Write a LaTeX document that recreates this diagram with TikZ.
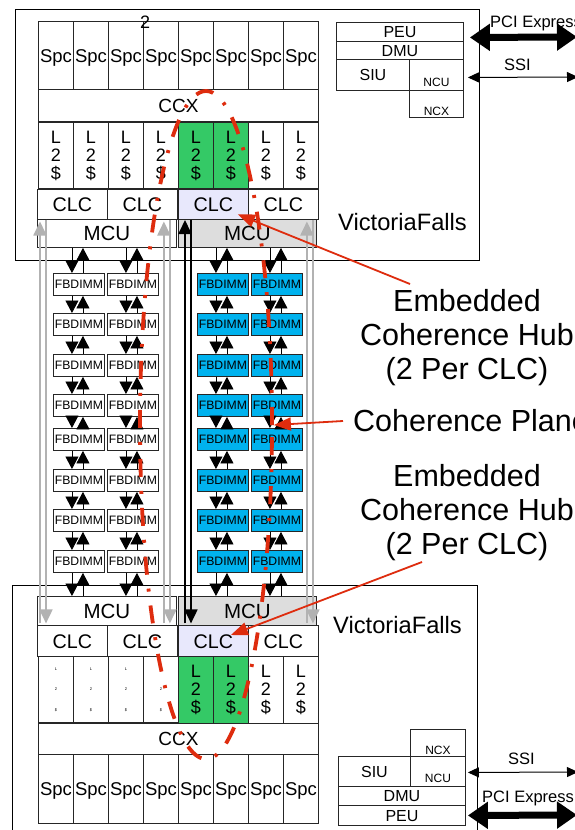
\documentclass[tikz,border=0pt]{standalone}
\usepackage{fontspec}
\setmainfont{Liberation Sans}
\usetikzlibrary{arrows.meta, calc, positioning, shapes.geometric}

\definecolor{cachegreen}{RGB}{52,201,102}
\definecolor{clclav}{RGB}{232,232,252}
\definecolor{mcugray}{RGB}{221,221,221}
\definecolor{dimmblue}{RGB}{0,178,238}
\definecolor{hubred}{RGB}{222,44,14}
\definecolor{busgray}{RGB}{178,178,178}

\newcommand{\setfs}[1]{\fontsize{#1}{#1}\selectfont}

\begin{document}
\begin{tikzpicture}[x=1pt, y=-1pt,
    cell/.style={rectangle, draw=black!85, line width=0.9pt, inner sep=0pt, anchor=north west},
    spc/.style={cell, minimum width=35pt, minimum height=68pt, font=\setfs{18.5}, text height=13.2pt, text depth=0pt},
    ccx/.style={cell, minimum width=280pt, minimum height=32pt, font=\setfs{19}, text height=13.6pt, text depth=0pt},
    ltwo/.style={cell, minimum width=35pt, minimum height=66pt, align=center, font=\fontsize{18}{18}\selectfont},
    ltiny/.style={cell, minimum width=35pt, minimum height=66pt, align=center, font=\fontsize{4}{20.5}\selectfont},
    clc/.style={cell, minimum width=70pt, minimum height=29.5pt, font=\setfs{19.7}, text height=14.1pt, text depth=0pt},
    mcu/.style={cell, minimum width=139pt, minimum height=28.5pt, font=\setfs{20.5}, text height=14.7pt, text depth=0pt},
    io/.style={cell, font=\setfs{16}, text height=11.5pt, text depth=0pt},
    iosmall/.style={cell, font=\setfs{12}, text height=23pt, text depth=0pt},
    dimm/.style={cell, minimum width=51pt, minimum height=22pt, font=\setfs{12.2}, text height=8.7pt, text depth=0pt},
    lbl/.style={anchor=base west, inner sep=0pt},
    dn/.style={-{Triangle[width=13pt,length=12.5pt]}, line width=0.8pt},
    bus/.style={-{Triangle[width=13pt,length=14pt]}, line width=1.8pt},
    ssi/.style={{Triangle[width=10pt,length=11pt]}-{Triangle[width=10pt,length=11pt]}, line width=1pt},
    pcie/.style={{Triangle[width=26pt,length=20pt]}-{Triangle[width=26pt,length=20pt]}, line width=7pt},
    plane/.style={draw=hubred, line width=3.8pt, dash pattern=on 18pt off 14pt on 3pt off 14pt},
    pointer/.style={-{Triangle[width=13pt,length=17pt]}, line width=1.8pt, draw=hubred, fill=hubred},
    hub/.style={font=\fontsize{30.5}{34}\selectfont, align=center, inner sep=0pt}
]
    \fill[white] (0,0) rectangle (575,830);
    \useasboundingbox (0,0) rectangle (575,830);

    % chip outlines
    \node[cell, draw=black, line width=0.8pt, minimum width=464pt, minimum height=251pt] (chipT) at (15,9) {};
    \node[cell, draw=black, line width=0.8pt, minimum width=465pt, minimum height=260pt] (chipB) at (12,585) {};

    % upper VictoriaFalls
    \foreach \i in {1,...,8}
        \node[spc] (spcT\i) at ({38+35*(\i-1)},21) {Spc};
    \node[ccx] (ccxT) at (38,89) {CCX};
    \foreach \i/\f in {1/white,2/white,3/white,4/white,5/cachegreen,6/cachegreen,7/white,8/white}
        \node[ltwo, fill=\f] (ltT\i) at ({38+35*(\i-1)},122) {L\\2\\\$};
    \node[clc] (clcT1) at (37,189) {CLC};
    \node[clc] (clcT2) at (107,189) {CLC};
    \node[clc, fill=clclav] (clcT3) at (178,189) {CLC};
    \node[clc] (clcT4) at (248,189) {CLC};
    \node[mcu] (mcuTL) at (37,218.5) {MCU};
    \node[mcu, fill=mcugray, minimum width=138pt] (mcuTR) at (178,218.5) {MCU};

    \node[io, minimum width=127pt, minimum height=19pt] (peuT) at (336,22) {PEU};
    \node[io, minimum width=127pt, minimum height=18pt] (dmuT) at (336,41) {DMU};
    \node[io, minimum width=73pt, minimum height=31pt] (siuT) at (336,59) {SIU};
    \node[iosmall, minimum width=54pt, minimum height=31pt] (ncuT) at (409,59) {NCU};
    \node[iosmall, minimum width=54pt, minimum height=27pt] (ncxT) at (409,90) {NCX};

    % lower VictoriaFalls
    \node[mcu] (mcuBL) at (37,596) {MCU};
    \node[mcu, fill=mcugray, minimum width=138pt] (mcuBR) at (178,596) {MCU};
    \node[clc, minimum height=31pt] (clcB1) at (37,625) {CLC};
    \node[clc, minimum height=31pt] (clcB2) at (107,625) {CLC};
    \node[clc, minimum height=31pt, fill=clclav] (clcB3) at (178,625) {CLC};
    \node[clc, minimum height=31pt] (clcB4) at (248,625) {CLC};
    \foreach \i in {1,...,4}
        \node[ltiny] (ltB\i) at ({38+35*(\i-1)},656) {L\\2\\\$};
    \foreach \i/\f in {5/cachegreen,6/cachegreen,7/white,8/white}
        \node[ltwo, minimum height=67pt, fill=\f] (ltB\i) at ({38+35*(\i-1)},656) {L\\2\\\$};
    \node[ccx, minimum height=31pt] (ccxB) at (38,723) {CCX};
    \foreach \i in {1,...,8}
        \node[spc, minimum height=69pt] (spcB\i) at ({38+35*(\i-1)},754) {Spc};

    \node[iosmall, minimum width=55pt, minimum height=27pt] (ncxB) at (410,729) {NCX};
    \node[io, minimum width=72pt, minimum height=30pt] (siuB) at (338,756) {SIU};
    \node[iosmall, minimum width=55pt, minimum height=30pt] (ncuB) at (410,756) {NCU};
    \node[io, minimum width=127pt, minimum height=19pt] (dmuB) at (338,786) {DMU};
    \node[io, minimum width=127pt, minimum height=20pt] (peuB) at (338,805) {PEU};

    % FBDIMM channels
    \foreach \r/\y in {1/273,2/313,3/354,4/394,5/428,6/469,7/509,8/550}{
        \node[dimm, fill=white] (dA\r) at (53,\y) {FBDIMM};
        \node[dimm, fill=white] (dB\r) at (107,\y) {FBDIMM};
        \node[dimm, fill=dimmblue] (dC\r) at (197,\y) {FBDIMM};
        \node[dimm, fill=dimmblue] (dD\r) at (251,\y) {FBDIMM};
    }
    \foreach \c in {A,B,C,D}{
        \foreach \r in {1,...,7}{
            \pgfmathtruncatemacro{\s}{\r+1}
            \draw[dn] ($(d\c\r.south)+(-7,0)$) -- ($(d\c\s.north)+(-7,0)$);
            \draw[dn] ($(d\c\s.north)+(4,0)$) -- ($(d\c\r.south)+(4,0)$);
        }
    }
    \foreach \c/\t/\b in {A/mcuTL/mcuBL, B/mcuTL/mcuBL, C/mcuTR/mcuBR, D/mcuTR/mcuBR}{
        \draw[dn] ($(d\c1.north |- \t.south)+(-7,0)$) -- ($(d\c1.north)+(-7,0)$);
        \draw[dn] ($(d\c1.north)+(4,0)$) -- ($(d\c1.north |- \t.south)+(4,0)$);
        \draw[dn] ($(d\c8.south)+(-7,0)$) -- ($(d\c8.south |- \b.north)+(-7,0)$);
        \draw[dn] ($(d\c8.south |- \b.north)+(4,0)$) -- ($(d\c8.south)+(4,0)$);
    }

    % links between the two chips
    \draw[bus, busgray] ($(mcuBL.south west)+(3,-2)$) -- ($(mcuTL.north west)+(3,3)$);
    \draw[bus, busgray] ($(mcuTL.north west)+(9,1)$) -- ($(mcuBL.south west)+(9,-2)$);
    \draw[bus, busgray] ($(mcuBL.south east)+(-13,-2)$) -- ($(mcuTL.north east)+(-13,3)$);
    \draw[bus, busgray] ($(mcuTL.north east)+(-7,1)$) -- ($(mcuBL.south east)+(-7,-2)$);
    \draw[bus] ($(mcuBR.south west)+(7,-2)$) -- ($(mcuTR.north west)+(7,1.5)$);
    \draw[bus] ($(mcuTR.north west)+(13,1)$) -- ($(mcuBR.south west)+(13,-2)$);
    \draw[bus, busgray] ($(mcuBR.south east)+(-10,-2)$) -- ($(mcuTR.north east)+(-10,3)$);
    \draw[bus, busgray] ($(mcuTR.north east)+(-4,1)$) -- ($(mcuBR.south east)+(-4,-2)$);

    % off-chip links
    \coordinate (pcieTend) at (577,37);
    \coordinate (ssiTend) at (578,77);
    \coordinate (ssiBend) at (578,772);
    \coordinate (pcieBend) at (577,815);
    \draw[pcie] ($(peuT.east)+(6,5.5)$) -- (pcieTend);
    \draw[ssi] ($(ncuT.east)+(4,2.5)$) -- (ssiTend);
    \draw[ssi] ($(ncuB.east)+(2,1)$) -- (ssiBend);
    \draw[pcie] ($(peuB.east)+(2,0)$) -- (pcieBend);

    % labels
    \node[lbl, font=\setfs{18}] (two) at (140,28) {2};
    \node[lbl, font=\setfs{16.5}] (pcieTl) at (490,27) {PCI Express};
    \node[lbl, font=\setfs{16.5}] (ssiTl) at (504,70) {SSI};
    \node[lbl, font=\setfs{16.5}] (ssiBl) at (508,764) {SSI};
    \node[lbl, font=\setfs{16.5}] (pcieBl) at (482,802) {PCI Express};
    \node[lbl, font=\setfs{23.7}] (vfT) at (338,230) {VictoriaFalls};
    \node[lbl, font=\setfs{23.7}] (vfB) at (333,633) {VictoriaFalls};

    % coherence plane
    \node[plane, ellipse, minimum width=132pt, minimum height=668pt, inner sep=0pt] (plane) at (206,425) {};
    \node[hub] (hubT) at (467,338) {Embedded\\Coherence Hub\\(2 Per CLC)};
    \node[hub] (hubB) at (467,513) {Embedded\\Coherence Hub\\(2 Per CLC)};
    \node[font=\setfs{30.5}, anchor=west, inner sep=10pt, text height=21.8pt, text depth=0pt] (planeLbl) at (343,421) {Coherence Plane};
    \coordinate (hubTtail) at (410,284);
    \coordinate (hubBtail) at (422,562);
    \draw[pointer] (hubTtail) -- ($(clcT3.south east)+(-11,-5)$);
    \draw[pointer] (planeLbl.west) -- (plane.east);
    \draw[pointer] (hubBtail) -- ($(clcB3.north east)+(-18,10)$);
\end{tikzpicture}
\end{document}
